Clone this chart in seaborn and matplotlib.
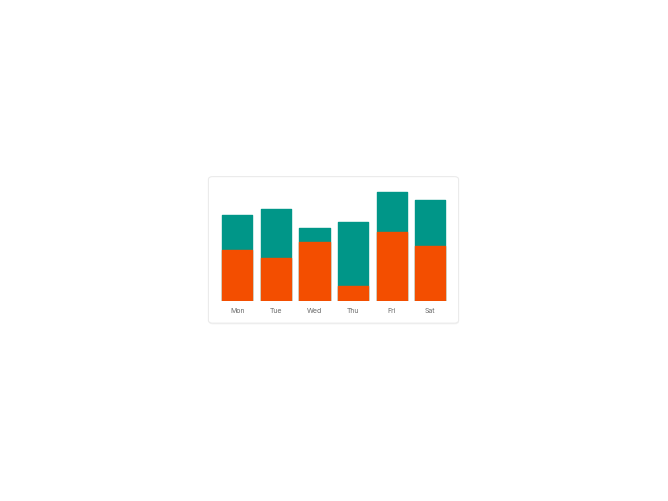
import numpy as np
import pandas as pd
import seaborn as sns
import matplotlib.pyplot as plt
from matplotlib.patches import FancyBboxPatch

days = ['Mon', 'Tue', 'Wed', 'Thu', 'Fri', 'Sat']
orange_vals = [51, 43, 59, 15, 69, 55]
teal_vals = [35, 49, 14, 64, 40, 46]

ORANGE = '#F34E00'
TEAL = '#009688'

df = pd.DataFrame({'day': days, 'orange': orange_vals, 'teal': teal_vals})
df['total'] = df['orange'] + df['teal']

sns.set_style('white')
plt.rcParams['font.family'] = ['Inter', 'DejaVu Sans']
fig = plt.figure(figsize=(6.68, 5.01), dpi=100)
fig.patch.set_facecolor('white')

# card behind the chart
shadow = FancyBboxPatch((0.3125, 0.3525), 0.3745, 0.2935, boxstyle='round,pad=0,rounding_size=0.006',
                        transform=fig.transFigure, facecolor='#f4f4f4', edgecolor='none', zorder=0)
card = FancyBboxPatch((0.312, 0.355), 0.3745, 0.2925, boxstyle='round,pad=0,rounding_size=0.006',
                      transform=fig.transFigure, facecolor='white', edgecolor='#ebebeb', linewidth=0.8, zorder=1)
fig.patches.extend([shadow, card])

ax = fig.add_axes([0.3205, 0.3992, 0.3583, 0.2395])
ax.set_facecolor('none')
ax.set_zorder(2)

sns.barplot(data=df, x='day', y='total', color=TEAL, width=0.78, saturation=1, ax=ax)
sns.barplot(data=df, x='day', y='orange', color=ORANGE, width=0.78, saturation=1, ax=ax)
for p in ax.patches:
    p.set_edgecolor(p.get_facecolor())
    p.set_linewidth(1.0)
    p.set_joinstyle('round')

ax.set_xlim(-0.6, 5.6)
ax.set_ylim(0, 120)
ax.set_xlabel('')
ax.set_ylabel('')
ax.set_yticks([])
ax.tick_params(axis='x', length=0, pad=5, labelsize=5, labelcolor='#6a6a6a')
sns.despine(ax=ax, left=True, bottom=True)

fig.savefig('out.png', dpi=100, facecolor='white')
